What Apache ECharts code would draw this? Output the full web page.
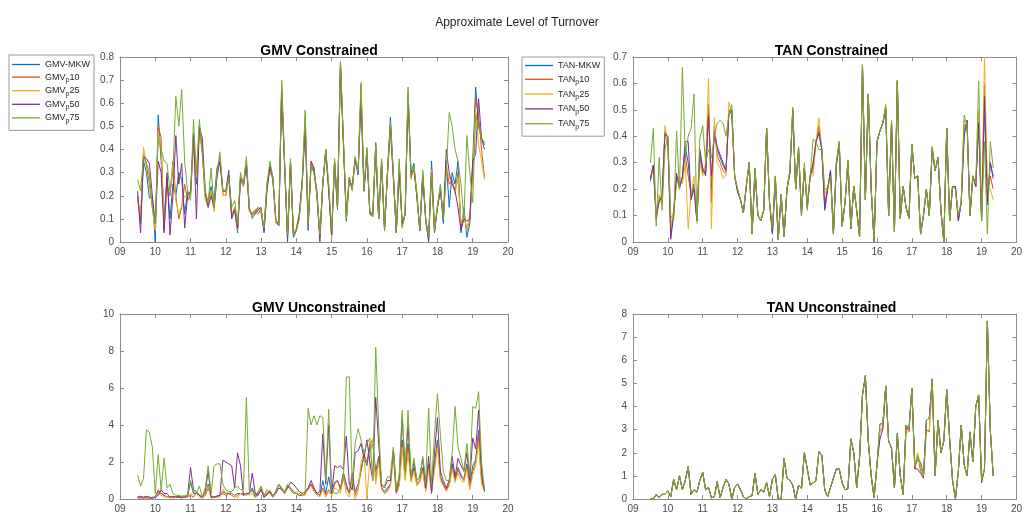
<!DOCTYPE html>
<html>
<head>
<meta charset="utf-8">
<script src="https://cdn.jsdelivr.net/npm/echarts@6/dist/echarts.min.js"></script>
<style>
html, body { margin: 0; padding: 0; background: #ffffff; }
#chart { width: 1025px; height: 515px; }
</style>
</head>
<body>
<div id="chart"></div>
<script>
// Monthly observations, first month July 2009 (x is years since 2000)
const firstMonth = 9.5;
const yearTicks = ['09', '10', '11', '12', '13', '14', '15', '16', '17', '18', '19', '20'];

const gmvNames = ['GMV-MKW', 'GMV_p10', 'GMV_p25', 'GMV_p50', 'GMV_p75'];
const tanNames = ['TAN-MKW', 'TAN_p10', 'TAN_p25', 'TAN_p50', 'TAN_p75'];
const panelTitles = ['GMV Constrained', 'TAN Constrained', 'GMV Unconstrained', 'TAN Unconstrained'];

// ---- GMV constrained turnover ----
const gmvConMKW = [0.20,0.08,0.35,0.30,0.19,0.20,0.00,0.55,0.35,0.10,0.28,0.10,0.25,0.20,0.30,0.27,0.12,0.22,0.20,0.45,0.25,0.50,0.40,0.20,0.18,0.24,0.18,0.32,0.36,0.22,0.22,0.29,0.12,0.14,0.04,0.27,0.24,0.34,0.14,0.12,0.13,0.15,0.14,0.05,0.24,0.32,0.27,0.09,0.07,0.66,0.34,0.00,0.35,0.02,0.05,0.11,0.25,0.52,0.05,0.33,0.30,
  0.22,0.02,0.26,0.38,0.24,0.02,0.35,0.14,0.76,0.44,0.09,0.27,0.24,0.35,0.29,0.65,0.23,0.40,0.12,0.11,0.43,0.10,0.35,0.06,0.30,0.54,0.29,0.04,0.33,0.07,0.12,0.65,0.30,0.34,0.19,0.05,0.29,0.09,0.01,0.35,0.05,0.15,0.24,0.08,0.35,0.15,0.30,0.25,0.35,0.04,0.15,0.02,0.08,0.35,0.67,0.50,0.45,0.42];
const gmvConP10 = [0.18,0.10,0.38,0.33,0.25,0.15,0.05,0.50,0.45,0.05,0.25,0.20,0.35,0.20,0.10,0.15,0.25,0.18,0.21,0.42,0.30,0.48,0.40,0.19,0.16,0.22,0.14,0.30,0.37,0.21,0.20,0.28,0.11,0.15,0.05,0.28,0.25,0.35,0.14,0.12,0.14,0.13,0.13,0.05,0.25,0.32,0.28,0.09,0.07,0.67,0.33,0.02,0.35,0.03,0.06,0.12,0.27,0.53,0.07,0.34,0.31,
  0.21,0.02,0.26,0.39,0.23,0.03,0.35,0.15,0.77,0.43,0.10,0.27,0.24,0.36,0.30,0.68,0.22,0.40,0.12,0.12,0.42,0.10,0.35,0.05,0.30,0.50,0.28,0.05,0.34,0.07,0.12,0.64,0.28,0.32,0.21,0.05,0.30,0.10,0.02,0.32,0.05,0.16,0.23,0.10,0.33,0.25,0.27,0.22,0.30,0.07,0.12,0.05,0.10,0.30,0.62,0.55,0.40,0.28];
const gmvConP25 = [0.18,0.12,0.41,0.34,0.28,0.15,0.05,0.48,0.40,0.08,0.22,0.22,0.33,0.18,0.12,0.16,0.20,0.19,0.20,0.44,0.28,0.47,0.38,0.18,0.15,0.22,0.13,0.29,0.36,0.20,0.21,0.28,0.12,0.15,0.05,0.28,0.24,0.35,0.13,0.13,0.14,0.15,0.12,0.06,0.26,0.30,0.27,0.08,0.08,0.68,0.34,0.03,0.34,0.04,0.06,0.12,0.26,0.55,0.08,0.34,0.32,
  0.21,0.03,0.25,0.39,0.24,0.02,0.35,0.15,0.76,0.44,0.10,0.28,0.23,0.36,0.30,0.67,0.22,0.40,0.13,0.12,0.41,0.11,0.35,0.06,0.28,0.48,0.27,0.05,0.34,0.08,0.12,0.65,0.27,0.32,0.22,0.06,0.30,0.09,0.02,0.31,0.06,0.16,0.23,0.11,0.32,0.28,0.26,0.21,0.28,0.08,0.12,0.05,0.12,0.28,0.58,0.42,0.35,0.27];
const gmvConP50 = [0.22,0.04,0.37,0.36,0.34,0.20,0.08,0.35,0.30,0.04,0.30,0.03,0.20,0.46,0.25,0.34,0.06,0.20,0.22,0.47,0.10,0.50,0.45,0.22,0.15,0.20,0.15,0.28,0.35,0.22,0.22,0.31,0.10,0.14,0.06,0.28,0.25,0.33,0.14,0.11,0.12,0.14,0.15,0.04,0.22,0.33,0.28,0.10,0.07,0.65,0.33,0.02,0.34,0.03,0.05,0.12,0.26,0.50,0.08,0.35,0.32,
  0.20,0.00,0.25,0.40,0.22,0.03,0.34,0.15,0.78,0.42,0.12,0.28,0.23,0.36,0.30,0.62,0.22,0.38,0.13,0.12,0.40,0.10,0.33,0.05,0.30,0.50,0.28,0.04,0.30,0.08,0.12,0.62,0.29,0.31,0.20,0.05,0.28,0.10,0.00,0.30,0.04,0.15,0.22,0.10,0.40,0.30,0.25,0.22,0.15,0.05,0.10,0.09,0.10,0.35,0.38,0.62,0.45,0.40];
const gmvConP75 = [0.27,0.22,0.37,0.34,0.30,0.15,0.08,0.45,0.40,0.35,0.34,0.22,0.30,0.63,0.50,0.66,0.35,0.22,0.18,0.53,0.30,0.53,0.38,0.22,0.17,0.32,0.15,0.30,0.39,0.22,0.22,0.28,0.15,0.18,0.08,0.30,0.25,0.37,0.15,0.10,0.13,0.12,0.14,0.06,0.25,0.35,0.28,0.10,0.07,0.70,0.35,0.03,0.36,0.03,0.05,0.10,0.25,0.57,0.08,0.33,0.30,
  0.20,0.03,0.25,0.40,0.25,0.05,0.36,0.15,0.78,0.45,0.10,0.28,0.22,0.37,0.30,0.69,0.22,0.41,0.12,0.11,0.42,0.10,0.36,0.05,0.30,0.52,0.30,0.04,0.36,0.06,0.12,0.67,0.28,0.33,0.20,0.05,0.31,0.10,0.02,0.30,0.05,0.15,0.25,0.10,0.30,0.56,0.50,0.40,0.35,0.25,0.10,0.46,0.30,0.17,0.55,0.50,0.45,0.43];

// ---- TAN constrained turnover ----
const tanConMKW = [0.23,0.29,0.08,0.17,0.16,0.42,0.39,0.03,0.11,0.25,0.21,0.24,0.36,0.30,0.17,0.21,0.08,0.34,0.27,0.26,0.50,0.20,0.42,0.35,0.32,0.29,0.27,0.49,0.50,0.25,0.19,0.16,0.11,0.21,0.30,0.03,0.27,0.10,0.08,0.12,0.43,0.15,0.03,0.24,0.01,0.18,0.02,0.20,0.26,0.50,0.20,0.35,0.10,0.28,0.13,0.25,0.29,0.38,0.42,0.35,0.13,
  0.20,0.27,0.03,0.29,0.37,0.06,0.15,0.30,0.05,0.21,0.12,0.02,0.67,0.16,0.56,0.20,0.00,0.38,0.42,0.45,0.50,0.10,0.45,0.04,0.61,0.09,0.21,0.13,0.09,0.37,0.24,0.25,0.03,0.10,0.20,0.10,0.35,0.27,0.32,0.12,0.00,0.43,0.08,0.21,0.21,0.08,0.15,0.41,0.46,0.10,0.25,0.21,0.46,0.08,0.52,0.14,0.30,0.25];
const tanConP10 = [0.24,0.29,0.09,0.16,0.16,0.42,0.38,0.04,0.12,0.24,0.22,0.24,0.33,0.25,0.18,0.22,0.08,0.32,0.26,0.28,0.52,0.15,0.44,0.33,0.30,0.27,0.26,0.50,0.49,0.25,0.20,0.16,0.11,0.21,0.30,0.03,0.28,0.10,0.08,0.12,0.43,0.15,0.04,0.25,0.01,0.18,0.02,0.20,0.27,0.50,0.20,0.36,0.11,0.28,0.14,0.25,0.27,0.38,0.44,0.35,0.15,
  0.20,0.26,0.03,0.30,0.38,0.06,0.15,0.31,0.05,0.21,0.12,0.02,0.67,0.16,0.56,0.20,0.00,0.38,0.42,0.45,0.51,0.10,0.46,0.04,0.61,0.09,0.21,0.13,0.09,0.37,0.24,0.25,0.03,0.10,0.20,0.10,0.36,0.27,0.32,0.12,0.00,0.43,0.08,0.21,0.21,0.09,0.15,0.44,0.45,0.10,0.25,0.21,0.48,0.09,0.60,0.18,0.25,0.20];
const tanConP25 = [0.25,0.28,0.10,0.18,0.14,0.44,0.35,0.05,0.12,0.22,0.25,0.22,0.30,0.05,0.18,0.25,0.07,0.30,0.25,0.30,0.62,0.05,0.47,0.30,0.28,0.24,0.25,0.53,0.48,0.24,0.20,0.16,0.11,0.22,0.30,0.04,0.28,0.10,0.09,0.12,0.42,0.15,0.04,0.25,0.01,0.18,0.02,0.20,0.27,0.50,0.20,0.36,0.12,0.28,0.15,0.25,0.25,0.38,0.47,0.35,0.18,
  0.21,0.25,0.04,0.30,0.38,0.07,0.15,0.31,0.06,0.21,0.12,0.02,0.66,0.16,0.56,0.20,0.01,0.38,0.42,0.45,0.52,0.11,0.46,0.04,0.61,0.09,0.21,0.13,0.09,0.37,0.24,0.25,0.03,0.11,0.20,0.10,0.36,0.27,0.32,0.12,0.00,0.43,0.08,0.21,0.20,0.10,0.16,0.46,0.45,0.10,0.25,0.22,0.50,0.10,0.70,0.20,0.20,0.16];
const tanConP50 = [0.24,0.29,0.10,0.15,0.18,0.41,0.40,0.01,0.10,0.26,0.20,0.25,0.38,0.38,0.16,0.20,0.08,0.35,0.28,0.25,0.48,0.25,0.41,0.36,0.33,0.30,0.27,0.48,0.50,0.25,0.19,0.16,0.11,0.21,0.30,0.03,0.27,0.10,0.08,0.12,0.43,0.15,0.03,0.24,0.01,0.18,0.02,0.20,0.26,0.50,0.20,0.35,0.10,0.28,0.13,0.25,0.30,0.38,0.41,0.35,0.12,
  0.20,0.27,0.03,0.29,0.37,0.06,0.15,0.30,0.05,0.21,0.12,0.02,0.67,0.16,0.56,0.20,0.00,0.38,0.42,0.45,0.50,0.10,0.45,0.04,0.61,0.09,0.21,0.13,0.09,0.37,0.24,0.25,0.03,0.10,0.20,0.10,0.35,0.27,0.32,0.12,0.00,0.43,0.08,0.21,0.21,0.08,0.15,0.40,0.46,0.10,0.25,0.21,0.45,0.08,0.55,0.15,0.30,0.24];
const tanConP75 = [0.30,0.43,0.06,0.32,0.12,0.35,0.40,0.10,0.08,0.42,0.20,0.66,0.33,0.40,0.43,0.56,0.08,0.39,0.44,0.30,0.35,0.32,0.40,0.45,0.46,0.45,0.40,0.48,0.52,0.25,0.20,0.16,0.11,0.21,0.30,0.03,0.28,0.10,0.08,0.12,0.43,0.15,0.05,0.25,0.01,0.18,0.02,0.20,0.27,0.51,0.20,0.36,0.10,0.30,0.12,0.25,0.39,0.38,0.35,0.35,0.20,
  0.20,0.25,0.03,0.30,0.38,0.06,0.15,0.31,0.05,0.21,0.12,0.02,0.67,0.16,0.56,0.20,0.00,0.38,0.42,0.45,0.52,0.10,0.46,0.04,0.61,0.09,0.21,0.13,0.09,0.37,0.24,0.25,0.03,0.10,0.20,0.10,0.36,0.27,0.32,0.12,0.00,0.43,0.08,0.21,0.20,0.10,0.15,0.48,0.44,0.10,0.25,0.22,0.61,0.08,0.38,0.03,0.38,0.28];

// ---- GMV unconstrained turnover ----
const gmvUncMKW = [0.1,0.1,0.05,0.1,0.05,0.05,0.1,0.4,0.3,0.2,0.1,0.1,0.1,0.1,0.1,0.1,0.1,0.15,0.9,0.3,0.3,0.2,0.1,0.3,0.8,0.1,0.1,0.15,0.2,0.4,0.3,0.3,0.3,0.2,0.3,0.3,0.2,0.3,0.3,0.6,0.2,0.3,0.6,0.1,0.3,0.4,0.1,0.4,0.8,0.6,0.4,0.7,0.6,0.4,0.3,0.2,0.2,0.3,0.6,0.8,0.5,
  0.3,0.2,1.0,0.3,1.2,0.3,0.9,1.0,0.6,1.4,0.8,0.3,1.3,0.4,0.8,1.6,2.3,1.8,2.8,3.0,1.5,2.3,0.6,0.4,0.6,0.8,2.5,0.3,0.9,3.2,1.2,3.0,1.0,1.7,0.8,1.0,1.7,0.5,1.9,0.4,1.9,3.2,1.2,0.8,0.5,0.8,1.9,1.0,1.7,1.3,1.1,1.9,0.7,1.8,2.1,3.7,1.1,0.5];
const gmvUncP10 = [0.05,0.05,0.05,0.05,0.05,0.1,0.1,0.5,0.3,0.2,0.1,0.1,0.05,0.1,0.1,0.05,0.1,0.1,0.2,0.1,0.3,0.2,0.05,0.2,0.6,0.1,0.1,0.15,0.2,0.3,0.2,0.3,0.2,0.1,0.2,0.3,0.3,0.2,0.3,0.5,0.1,0.3,0.5,0.1,0.2,0.4,0.1,0.4,0.8,0.5,0.4,0.7,0.5,0.3,0.3,0.2,0.2,0.3,0.5,0.8,0.5,
  0.3,0.2,0.6,0.2,0.5,0.3,0.8,1.0,0.5,1.4,0.6,0.3,1.4,0.2,0.6,1.5,2.4,2.0,3.0,3.2,1.0,2.2,0.6,0.3,0.5,0.8,2.5,0.3,0.8,3.0,1.2,2.8,1.0,1.6,0.8,1.0,1.6,0.5,1.8,0.5,1.8,3.0,1.2,0.8,0.5,0.8,1.8,1.0,1.6,1.2,1.0,1.8,0.6,1.5,2.0,3.5,1.0,0.5];
const gmvUncP25 = [0.05,0.05,0.05,0.05,0.1,0.05,0.1,0.3,0.2,0.1,0.1,0.05,0.1,0.1,0.15,0.1,0.1,0.1,0.3,0.2,0.3,0.1,0.05,0.3,0.7,0.05,0.1,0.1,0.1,0.55,0.3,0.4,0.3,0.2,0.05,0.3,0.2,0.3,0.2,0.3,0.05,0.2,0.7,0.1,0.3,0.5,0.1,0.3,0.8,0.6,0.4,0.8,0.5,0.3,0.4,0.3,0.2,0.2,0.6,0.7,0.4,
  0.2,0.1,0.5,0.1,0.4,0.2,0.6,0.5,0.3,1.2,0.3,0.1,1.0,0.0,0.4,2.0,2.5,0.0,2.2,3.3,0.8,2.0,0.5,0.3,0.4,0.7,2.2,0.3,0.7,2.8,1.0,2.5,0.9,1.5,0.7,0.9,1.5,0.4,1.6,0.4,1.5,2.8,1.0,0.7,0.4,0.7,1.6,0.9,1.4,1.0,0.9,1.6,0.5,1.3,1.8,3.0,0.8,0.4];
const gmvUncP50 = [0.1,0.15,0.1,0.15,0.1,0.05,0.1,0.2,0.5,0.3,0.3,0.1,0.15,0.1,0.15,0.1,0.1,0.2,1.7,0.5,0.4,0.2,0.1,0.4,1.5,0.1,0.1,0.15,0.2,2.1,2.0,1.9,1.8,0.6,2.5,1.8,0.2,0.3,0.3,1.4,0.3,0.2,0.5,0.1,0.3,0.4,0.2,0.3,0.6,0.5,0.3,0.6,0.9,0.8,0.6,0.4,0.3,0.4,0.6,1.0,0.6,
  0.3,0.4,3.5,0.8,4.0,0.3,1.8,1.7,1.8,1.6,3.4,0.8,0.5,2.5,2.6,3.0,2.2,3.2,2.0,1.0,5.5,3.0,0.7,0.6,1.0,1.0,2.7,0.4,1.2,4.4,1.6,4.0,1.2,2.0,1.0,1.2,2.2,0.6,2.3,0.3,2.5,4.4,1.5,1.0,0.6,1.0,2.3,1.2,2.2,1.8,1.5,2.5,1.0,3.3,2.7,4.8,1.5,0.4];
const gmvUncP75 = [1.3,0.7,1.1,3.75,3.6,2.8,0.3,2.4,0.5,2.2,0.6,0.8,0.3,0.2,0.2,0.15,0.2,0.2,1.0,0.4,0.3,0.7,0.1,0.6,1.8,0.3,1.8,1.9,1.9,0.8,0.5,0.4,0.4,0.6,0.7,0.5,0.5,5.5,0.3,0.5,0.2,0.4,0.7,0.2,0.5,0.3,0.1,0.4,0.8,0.6,0.3,0.8,0.6,0.3,0.3,0.2,0.3,0.4,4.9,4.0,4.5,
  4.0,4.5,4.4,1.0,4.85,0.5,0.3,0.3,0.6,1.0,6.6,6.6,0.8,3.0,3.8,3.2,2.5,3.0,3.3,1.0,8.2,4.0,0.8,0.7,1.2,1.2,2.8,0.5,1.3,4.8,1.5,4.8,1.2,2.2,1.0,1.2,2.3,1.0,4.9,0.8,3.5,5.7,3.5,1.5,1.0,1.0,2.5,5.0,2.8,2.2,1.5,3.0,1.3,5.0,4.9,5.8,2.0,0.5];

// ---- TAN unconstrained turnover ----
const tanUncMKW = [0,0,0.2,0.05,0.2,0.2,0.35,0.1,0.85,0.4,1.0,0.4,0.8,1.4,0.2,0.4,0.3,0.8,1.15,0.4,0.5,0.05,0.1,0.75,0.05,0.5,0.85,0.65,0,0.5,0.65,0.4,0.1,0,0.1,0.15,1.1,0.2,0.4,0.3,0.7,0.1,0.85,1.05,0,0,1.75,0.9,0.8,0.6,0,0.6,0.45,2.0,1.3,0.6,0.7,0.8,2.05,1.9,
  0.4,0.1,0.5,0.9,1.3,1.3,0.7,0.4,0.45,2.6,2.0,0.5,1.8,4.5,5.35,2.5,1.0,0.05,1.5,3.25,3.25,4.9,2.5,2.2,0.5,2.85,1.0,0.2,3.2,3.0,4.75,1.4,1.7,1.6,1.0,3.4,3.5,5.2,1.0,3.4,2.0,2.5,4.75,2.6,0.8,0,1.2,3.2,1.5,1.0,2.9,1.6,4.0,4.5,0.8,1.3,7.7,3.0,1.0];
const tanUncP10 = [0,0,0.2,0.05,0.2,0.2,0.35,0.1,0.85,0.4,1.0,0.4,0.8,1.4,0.2,0.4,0.3,0.8,1.15,0.4,0.5,0.05,0.1,0.75,0.05,0.5,0.85,0.65,0,0.5,0.65,0.4,0.1,0,0.1,0.15,1.1,0.2,0.4,0.3,0.7,0.1,0.85,1.05,0,0,1.75,0.9,0.8,0.6,0,0.6,0.45,2.0,1.3,0.6,0.7,0.8,2.05,1.9,
  0.4,0.1,0.5,0.9,1.3,1.3,0.7,0.4,0.45,2.6,2.0,0.5,1.8,4.5,5.3,2.5,1.0,0.05,1.5,2.9,3.1,4.85,2.5,2.2,0.5,2.8,1.0,0.2,3.2,2.9,4.8,1.3,1.9,1.2,1.0,3.0,2.9,5.15,1.0,3.4,2.0,2.5,4.7,2.6,0.8,0,1.2,3.2,1.5,1.0,2.9,1.6,4.0,4.5,0.8,1.3,7.7,3.0,1.0];
const tanUncP25 = [0,0,0.2,0.05,0.2,0.2,0.35,0.1,0.85,0.4,1.0,0.4,0.8,1.4,0.2,0.4,0.3,0.8,1.15,0.4,0.5,0.05,0.1,0.75,0.05,0.5,0.85,0.65,0,0.5,0.65,0.4,0.1,0,0.1,0.15,1.1,0.2,0.4,0.3,0.7,0.1,0.85,1.05,0,0,1.75,0.9,0.8,0.6,0,0.6,0.45,2.0,1.3,0.6,0.7,0.8,2.05,1.9,
  0.4,0.1,0.5,0.9,1.3,1.3,0.7,0.4,0.45,2.6,2.0,0.5,1.8,4.5,5.3,2.5,1.0,0.05,1.5,2.95,3.15,4.85,2.5,2.2,0.5,2.8,1.0,0.2,2.9,2.9,4.8,1.5,2.0,1.4,1.0,2.9,3.0,5.15,1.0,3.4,2.0,2.5,4.7,2.6,0.8,0,1.2,3.2,1.5,1.0,2.9,1.6,4.0,4.5,0.8,1.3,7.7,3.0,1.0];
const tanUncP50 = [0,0,0.2,0.05,0.2,0.2,0.35,0.1,0.85,0.4,1.0,0.4,0.8,1.4,0.2,0.4,0.3,0.8,1.15,0.4,0.5,0.05,0.1,0.75,0.05,0.5,0.85,0.65,0,0.5,0.65,0.4,0.1,0,0.1,0.15,1.1,0.2,0.4,0.3,0.7,0.1,0.85,1.05,0,0,1.75,0.9,0.8,0.6,0,0.6,0.45,2.0,1.3,0.6,0.7,0.8,2.05,1.9,
  0.4,0.1,0.5,0.9,1.3,1.3,0.7,0.4,0.45,2.6,2.0,0.5,1.8,4.5,5.3,2.5,1.0,0.05,1.5,2.6,3.0,4.85,2.5,2.2,0.5,2.8,1.0,0.2,3.2,3.0,4.8,1.3,1.3,1.1,0.9,3.4,3.5,5.15,1.0,3.4,2.0,2.5,4.7,2.6,0.8,0,1.2,3.2,1.5,1.0,2.9,1.6,4.0,4.5,0.7,1.3,7.7,3.0,1.0];
const tanUncP75 = [0,0,0.2,0.05,0.2,0.2,0.35,0.1,0.85,0.4,1.0,0.4,0.8,1.4,0.2,0.4,0.3,0.8,1.15,0.4,0.5,0.05,0.1,0.75,0.05,0.5,0.85,0.65,0,0.5,0.65,0.4,0.1,0,0.1,0.15,1.1,0.2,0.4,0.3,0.7,0.1,0.85,1.05,0,0,1.75,0.9,0.8,0.6,0,0.6,0.45,2.0,1.3,0.6,0.7,0.8,2.05,1.9,
  0.4,0.1,0.5,0.9,1.3,1.3,0.7,0.4,0.45,2.6,2.0,0.5,1.8,4.5,5.3,2.5,1.0,0.05,1.5,3.2,3.3,4.85,2.5,2.2,0.5,2.8,1.0,0.2,3.2,3.0,4.8,1.4,1.9,1.5,1.0,3.4,3.5,5.15,1.0,3.4,2.0,2.5,4.7,2.6,0.8,0,1.2,3.2,1.5,1.0,2.9,1.6,4.0,4.5,0.8,1.3,7.7,3.0,1.0];

// MATLAB default line colours
const lineColors = ['#0072BD', '#D95319', '#EDB120', '#7E2F8E', '#77AC30'];

const panels = [
  { names: gmvNames, data: [gmvConMKW, gmvConP10, gmvConP25, gmvConP50, gmvConP75], yMax: 0.8, yStep: 0.1 },
  { names: tanNames, data: [tanConMKW, tanConP10, tanConP25, tanConP50, tanConP75], yMax: 0.7, yStep: 0.1 },
  { names: gmvNames, data: [gmvUncMKW, gmvUncP10, gmvUncP25, gmvUncP50, gmvUncP75], yMax: 10, yStep: 2 },
  { names: tanNames, data: [tanUncMKW, tanUncP10, tanUncP25, tanUncP50, tanUncP75], yMax: 8, yStep: 1 }
];

const grids = [
  { left: 120, top: 57, width: 388, height: 185 },
  { left: 633, top: 57, width: 387, height: 185 },
  { left: 120, top: 314, width: 388, height: 185 },
  { left: 633, top: 314, width: 387, height: 185 }
];

const FONT = "'Liberation Sans', Arial, Helvetica, sans-serif";
const axisColor = '#8c8c8c';
const labelColor = '#4a4a4a';

function monthSeries(values) {
  return values.map((v, i) => [firstMonth + i / 12, v]);
}

const xAxes = [];
const yAxes = [];
grids.forEach((g, k) => {
  // bottom / left axes with labels
  xAxes.push({
    gridIndex: k, type: 'value', min: 9, max: 20, interval: 1, position: 'bottom',
    axisLine: { show: true, lineStyle: { color: axisColor, width: 1 } },
    axisTick: { show: true, inside: true, length: 4, lineStyle: { color: axisColor } },
    axisLabel: { color: labelColor, fontSize: 10, fontFamily: FONT, margin: 5,
      formatter: v => yearTicks[Math.round(v) - 9] },
    splitLine: { show: false }
  });
  yAxes.push({
    gridIndex: k, type: 'value', min: 0, max: panels[k].yMax, interval: panels[k].yStep, position: 'left',
    axisLine: { show: true, lineStyle: { color: axisColor, width: 1 } },
    axisTick: { show: true, inside: true, length: 4, lineStyle: { color: axisColor } },
    axisLabel: { color: labelColor, fontSize: 10, fontFamily: FONT, margin: 6 },
    splitLine: { show: false }
  });
});
grids.forEach((g, k) => {
  // top / right box edges with ticks
  xAxes.push({
    gridIndex: k, type: 'value', min: 9, max: 20, interval: 1, position: 'top',
    axisLine: { show: true, onZero: false, lineStyle: { color: axisColor, width: 1 } },
    axisTick: { show: true, inside: true, length: 4, lineStyle: { color: axisColor } },
    axisLabel: { show: false }, splitLine: { show: false }
  });
  yAxes.push({
    gridIndex: k, type: 'value', min: 0, max: panels[k].yMax, interval: panels[k].yStep, position: 'right',
    axisLine: { show: true, onZero: false, lineStyle: { color: axisColor, width: 1 } },
    axisTick: { show: true, inside: true, length: 4, lineStyle: { color: axisColor } },
    axisLabel: { show: false }, splitLine: { show: false }
  });
});

const series = [];
panels.forEach((p, k) => {
  p.data.forEach((values, j) => {
    series.push({
      type: 'line', name: p.names[j], xAxisIndex: k, yAxisIndex: k,
      data: monthSeries(values), symbol: 'none', showSymbol: false,
      lineStyle: { width: 1, color: lineColors[j] }, itemStyle: { color: lineColors[j] },
      animation: false, silent: true, z: 2 + j
    });
  });
});

const titles = [{
  text: 'Approximate Level of Turnover', left: 512, top: 12, textAlign: 'center',
  textStyle: { fontSize: 12, fontWeight: 'normal', color: '#262626', fontFamily: FONT }
}];
grids.forEach((g, k) => {
  titles.push({
    text: panelTitles[k], left: g.left + g.width / 2, top: g.top - 18, textAlign: 'center',
    textStyle: { fontSize: 14, fontWeight: 'bold', color: '#000', fontFamily: FONT }
  });
});

function legendLabel(name) {
  const m = name.match(/^(GMV|TAN)_p(\d+)$/);
  return m ? m[1] + '{sub|p}' + m[2] : name;
}
function makeLegend(names, left, top, gap, pad) {
  return {
    data: names.map(n => ({ name: n, icon: 'rect' })),
    orient: 'vertical', left: left, top: top,
    itemWidth: 28, itemHeight: 1.3, itemGap: gap,
    padding: pad, borderColor: '#9a9a9a', borderWidth: 1, backgroundColor: '#fff',
    selectedMode: false, formatter: legendLabel,
    textStyle: { fontSize: 9, lineHeight: 11, color: '#262626', fontFamily: FONT,
      rich: { sub: { fontSize: 7, lineHeight: 11, color: '#262626', fontFamily: FONT, padding: [6, 0, 0, 0] } } }
  };
}

const chart = echarts.init(document.getElementById('chart'), null, { renderer: 'canvas' });
chart.setOption({
  backgroundColor: '#ffffff',
  animation: false,
  title: titles,
  legend: [
    makeLegend(gmvNames, 9, 55, 0.6, [4, 4, 6, 3]),
    makeLegend(tanNames, 522, 57, 1.8, [3, 4, 6, 3])
  ],
  grid: grids.map(g => Object.assign({ containLabel: false }, g)),
  xAxis: xAxes,
  yAxis: yAxes,
  series: series
});
</script>
</body>
</html>
